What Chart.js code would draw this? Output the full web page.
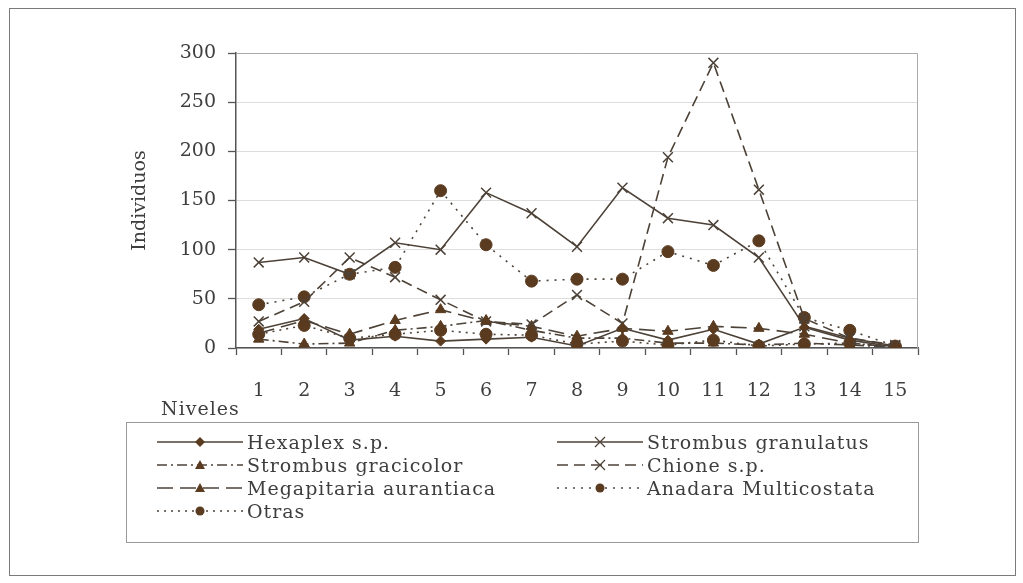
<!DOCTYPE html>
<html>
<head>
<meta charset="utf-8">
<script src="https://cdn.jsdelivr.net/npm/chart.js@4/dist/chart.umd.min.js"></script>
<style>
  body { margin: 0; background: #fff; font-family: "DejaVu Serif", serif; color: #3e3e3e; }
  #frame { position: absolute; left: 9px; top: 8px; width: 1005px; height: 566px; border: 1px solid #7a7a7a; }
  #wrap { position: absolute; left: 0; top: 0; width: 1023px; height: 583px; }
  #niveles { position: absolute; left: 161px; top: 397px; font-size: 19px; letter-spacing: 1px; }
  #legend { position: absolute; left: 126px; top: 422px; width: 793px; height: 121px; border: 1px solid #999;
            display: grid; grid-template-columns: 400px 390px; grid-auto-rows: 23px; padding-top: 7px; box-sizing: border-box; }
  .item { display: flex; align-items: center; font-size: 19px; letter-spacing: 1px; white-space: nowrap; }
  .item svg { margin-left: 30px; margin-right: 4px; }
</style>
</head>
<body>
<div id="frame"></div>
<div id="wrap"><canvas id="chart" width="1023" height="583"></canvas></div>
<div id="niveles">Niveles</div>
<div id="legend"></div>
<script>
// Datos
const niveles = ["1", "2", "3", "4", "5", "6", "7", "8", "9", "10", "11", "12", "13", "14", "15"];
const hexaplex = [19, 30, 8, 12, 7, 9, 11, 2, 20, 8, 19, 4, 21, 8, 1];
const strombusGranulatus = [87, 92, 75, 107, 100, 158, 137, 103, 163, 132, 125, 92, 22, 10, 2];
const strombusGracicolor = [9, 4, 5, 18, 22, 28, 18, 10, 10, 5, 5, 3, 5, 3, 1];
const chione = [27, 47, 92, 72, 49, 27, 24, 54, 25, 194, 290, 161, 30, 10, 3];
const megapitaria = [15, 28, 14, 28, 39, 27, 22, 12, 20, 17, 22, 20, 14, 5, 1];
const anadara = [44, 52, 75, 82, 160, 105, 68, 70, 70, 98, 84, 109, 31, 18, 2];
const otras = [14, 23, 10, 14, 18, 14, 13, 4, 7, 3, 8, 2, 4, 5, 1];
const yTicks = [0, 50, 100, 150, 200, 250, 300];

const lineColor = "#4d4238";
const markColor = "#5a3b20";
const textColor = "#3e3e3e";

const series = [
    { label: "Hexaplex s.p.", data: hexaplex, dash: [], marker: "rectRot", r: 5 },
    { label: "Strombus granulatus", data: strombusGranulatus, dash: [], marker: "crossRot", r: 7 },
    { label: "Strombus gracicolor", data: strombusGracicolor, dash: [10, 4, 2, 4], marker: "triangle", r: 6 },
    { label: "Chione s.p.", data: chione, dash: [11, 6], marker: "crossRot", r: 7 },
    { label: "Megapitaria aurantiaca", data: megapitaria, dash: [16, 7], marker: "triangle", r: 6 },
    { label: "Anadara Multicostata", data: anadara, dash: [2, 6], marker: "circle", r: 6 },
    { label: "Otras", data: otras, dash: [2, 5], marker: "circle", r: 6 }
];

const datasets = series.map(s => ({
    label: s.label,
    data: s.data,
    borderColor: lineColor,
    borderWidth: 1.6,
    borderDash: s.dash,
    pointStyle: s.marker,
    pointRadius: s.r,
    pointBackgroundColor: markColor,
    pointBorderColor: s.marker === "crossRot" ? lineColor : markColor,
    pointBorderWidth: s.marker === "crossRot" ? 1.5 : 1,
    tension: 0
}));

const serif = "'DejaVu Serif', serif";

new Chart(document.getElementById("chart").getContext("2d"), {
    type: "line",
    data: { labels: niveles, datasets: datasets },
    options: {
        responsive: false,
        animation: false,
        layout: { padding: { left: 123, top: 53, right: 105, bottom: 0 } },
        plugins: { legend: { display: false }, tooltip: { enabled: false } },
        scales: {
            x: {
                offset: true,
                grid: { offset: true, drawOnChartArea: false, tickLength: 7, tickColor: "#555", tickWidth: 1.3 },
                border: { color: "#555", width: 1.5 },
                ticks: { color: textColor, font: { family: serif, size: 19 }, padding: 25, maxRotation: 0 },
                afterFit: scale => { scale.height = 583 - 348; }
            },
            y: {
                min: 0,
                max: 300,
                afterBuildTicks: scale => { scale.ticks = yTicks.map(v => ({ value: v })); },
                grid: { color: "#ddd", tickLength: 8, tickColor: "#555", tickWidth: 1.3 },
                border: { color: "#555", width: 1.5 },
                ticks: { color: textColor, font: { family: serif, size: 19 }, padding: 12 },
                title: { display: true, text: "Individuos", color: textColor, font: { family: serif, size: 19 }, padding: { top: 6 } },
                afterFit: scale => { scale.width = 236 - 123; }
            }
        }
    },
    plugins: [{
        id: "plotBorder",
        afterDraw(chart) {
            const a = chart.chartArea, c = chart.ctx;
            c.save();
            c.strokeStyle = "#aaa";
            c.lineWidth = 1;
            c.beginPath();
            c.moveTo(a.left, a.top + 0.5);
            c.lineTo(a.right - 0.5, a.top + 0.5);
            c.lineTo(a.right - 0.5, a.bottom);
            c.stroke();
            c.restore();
        }
    }]
});

// Leyenda en dos columnas
function markerSvg(s) {
    const cx = 43, cy = 9;
    if (s.marker === "circle") return `<circle cx="${cx}" cy="${cy}" r="4.5" fill="${markColor}"/>`;
    if (s.marker === "rectRot") return `<polygon points="${cx},${cy - 5} ${cx + 5},${cy} ${cx},${cy + 5} ${cx - 5},${cy}" fill="${markColor}"/>`;
    if (s.marker === "triangle") return `<polygon points="${cx},${cy - 5} ${cx + 5},${cy + 4} ${cx - 5},${cy + 4}" fill="${markColor}"/>`;
    return `<path d="M${cx - 5} ${cy - 5}L${cx + 5} ${cy + 5}M${cx + 5} ${cy - 5}L${cx - 5} ${cy + 5}" stroke="${lineColor}" stroke-width="1.3"/>`;
}

const legend = document.getElementById("legend");
series.forEach(s => {
    const item = document.createElement("div");
    item.className = "item";
    const dash = s.dash.length ? `stroke-dasharray="${s.dash.join(" ")}"` : "";
    item.innerHTML = `<svg width="86" height="18"><line x1="0" y1="9" x2="86" y2="9" stroke="${lineColor}" stroke-width="1.6" ${dash}/>${markerSvg(s)}</svg><span>${s.label}</span>`;
    legend.appendChild(item);
});
</script>
</body>
</html>
